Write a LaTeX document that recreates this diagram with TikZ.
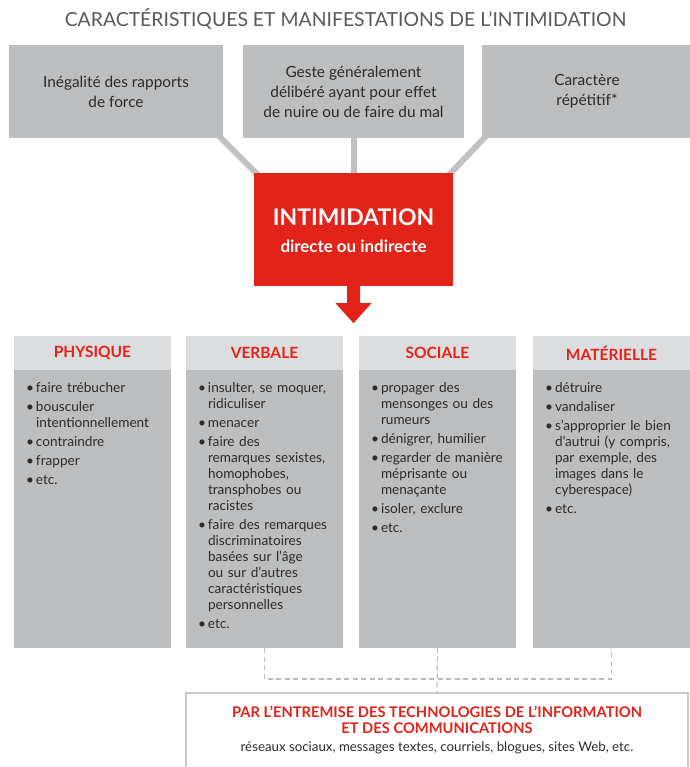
\documentclass[tikz,border=0pt]{standalone}
\usepackage{fontspec}
\setmainfont{Lato}
\usetikzlibrary{calc}
\definecolor{boxgray}{HTML}{BCBEC0}
\definecolor{headgray}{HTML}{DCDDDE}
\definecolor{iired}{HTML}{E2231A}
\definecolor{txt}{HTML}{2B2B2B}
\definecolor{ttl}{HTML}{58595B}
\definecolor{conn}{HTML}{BFC1C3}
\definecolor{dashc}{HTML}{BDBDBD}
\definecolor{framec}{HTML}{C9C9C9}
\newcommand\bitem[1]{\par\hangindent=10pt\hangafter=1\noindent\makebox[10pt][l]{\textbullet}#1\par\vspace{3pt}}
\newcommand\nl{\break}
\pgfdeclarelayer{bg}
\pgfsetlayers{bg,main}
\tikzset{
 topbox/.style={fill=boxgray, inner sep=0pt, minimum height=93pt, align=center, text=txt, font=\fontsize{15.4}{20}\selectfont},
 colhead/.style={fill=headgray, inner sep=0pt, minimum height=34pt, minimum width=157pt},
 coltitle/.style={text=iired, inner sep=0pt, font=\fontsize{15.5}{18}\selectfont\bfseries},
 colbody/.style={fill=boxgray, inner sep=0pt, minimum height=278pt, minimum width=157pt},
 collist/.style={anchor=north west, inner sep=0pt, text width=150pt, align=left, text=txt, font=\fontsize{13.6}{16}\selectfont},
 conline/.style={draw=conn, line width=6pt},
 dashline/.style={draw=dashc, line width=1.2pt, dash pattern=on 5pt off 3.5pt},
}
\begin{document}
\begin{tikzpicture}[x=1pt,y=-1pt]
\useasboundingbox (0,0) rectangle (689,767);
% title
\node[text=ttl, font=\fontsize{19.4}{22}\selectfont, inner sep=0pt] (title) at (345.5,19) {CARACTÉRISTIQUES ET MANIFESTATIONS DE L’INTIMIDATION};
% top boxes
\node[topbox, minimum width=214pt] (t1) at (116,91.5) {Inégalité des rapports\\de force};
\node[topbox, minimum width=221pt] (t2) at (353.5,91.5) {Geste généralement\\délibéré ayant pour effet\\de nuire ou de faire du mal};
\node[topbox, minimum width=210pt] (t3) at (587,91.5) {Caractère\\répétitif*};
% central box
\node[fill=iired, minimum width=199pt, minimum height=113pt, inner sep=0pt] (intim) at (353.5,229.5) {};
\node[text=white, inner sep=0pt, font=\fontsize{22.9}{26}\selectfont\bfseries] (intimT) at ($(intim.center)+(0,-12.5)$) {INTIMIDATION};
\node[text=white, inner sep=0pt, font=\fontsize{16.9}{19}\selectfont\bfseries] (intimS) at ($(intim.center)+(0,16.5)$) {directe ou indirecte};
% connectors
\begin{pgfonlayer}{bg}
\draw[conline] ($(t1.south east)+(-6,-4)$) -- ($(intim.north west)+(6,4)$);
\draw[conline] ($(t2.south)+(0,-4)$) -- ($(intim.north)+(0,4)$);
\draw[conline] ($(t3.south west)+(6,-4)$) -- ($(intim.north east)+(-6,4)$);
\end{pgfonlayer}
% arrow
\coordinate (tip) at ($(intim.south)+(0,37)$);
\fill[iired] ($(intim.south)+(-6.5,-1)$) -- ($(intim.south)+(-6.5,17)$) -- ($(intim.south)+(-18,17)$) -- (tip) -- ($(intim.south)+(18,17)$) -- ($(intim.south)+(6.5,17)$) -- ($(intim.south)+(6.5,-1)$) -- cycle;
% columns
\foreach \n/\x/\w in {phys/92.5/157, verb/264.5/157, soc/437.5/157, mat/611.5/157}{
  \node[colhead, minimum width=\w pt] (\n H) at (\x,353) {};
  \node[colbody, minimum width=\w pt] (\n B) at (\x,509) {};
}
\node[coltitle] (physT) at (physH.center) {PHYSIQUE};
\node[coltitle] (verbT) at (verbH.center) {VERBALE};
\node[coltitle] (socT) at (socH.center) {SOCIALE};
\node[coltitle] (matT) at (matH.center) {MATÉRIELLE};
\node[collist] (physL) at ($(physB.north west)+(12,6)$) {%
\bitem{faire trébucher}
\bitem{bousculer\nl intentionnellement}
\bitem{contraindre}
\bitem{frapper}
\bitem{etc.}};
\node[collist] (verbL) at ($(verbB.north west)+(12,6)$) {%
\bitem{insulter, se moquer,\nl ridiculiser}
\bitem{menacer}
\bitem{faire des\nl remarques sexistes,\nl homophobes,\nl transphobes ou\nl racistes}
\bitem{faire des remarques\nl discriminatoires\nl basées sur l’âge\nl ou sur d’autres\nl caractéristiques\nl personnelles}
\bitem{etc.}};
\node[collist] (socL) at ($(socB.north west)+(12,6)$) {%
\bitem{propager des\nl mensonges ou des\nl rumeurs}
\bitem{dénigrer, humilier}
\bitem{regarder de manière\nl méprisante ou\nl menaçante}
\bitem{isoler, exclure}
\bitem{etc.}};
\node[collist] (matL) at ($(matB.north west)+(12,6)$) {%
\bitem{détruire}
\bitem{vandaliser}
\bitem{s’approprier le bien\nl d’autrui (y compris,\nl par exemple, des\nl images dans le\nl cyberespace)}
\bitem{etc.}};
% bottom box
\node[draw=framec, fill=white, line width=1.2pt, minimum width=502pt, minimum height=90pt, inner sep=0pt] (ict) at (437,738) {};
\node[text=iired, inner sep=0pt, align=center, font=\fontsize{14.7}{16}\selectfont\bfseries] (ictT) at (437,720) {PAR L’ENTREMISE DES TECHNOLOGIES DE L’INFORMATION\\ET DES COMMUNICATIONS};
\node[text=txt, inner sep=0pt, font=\fontsize{13.3}{16}\selectfont] (ictS) at (437,748) {réseaux sociaux, messages textes, courriels, blogues, sites Web, etc.};
% dashed connectors
\coordinate (dj) at (437.5,679);
\draw[dashline] (verbB.south) -- (verbB.south |- dj) -- (matB.south |- dj) -- (matB.south);
\draw[dashline] (socB.south) -- (ict.north);
\end{tikzpicture}
\end{document}
